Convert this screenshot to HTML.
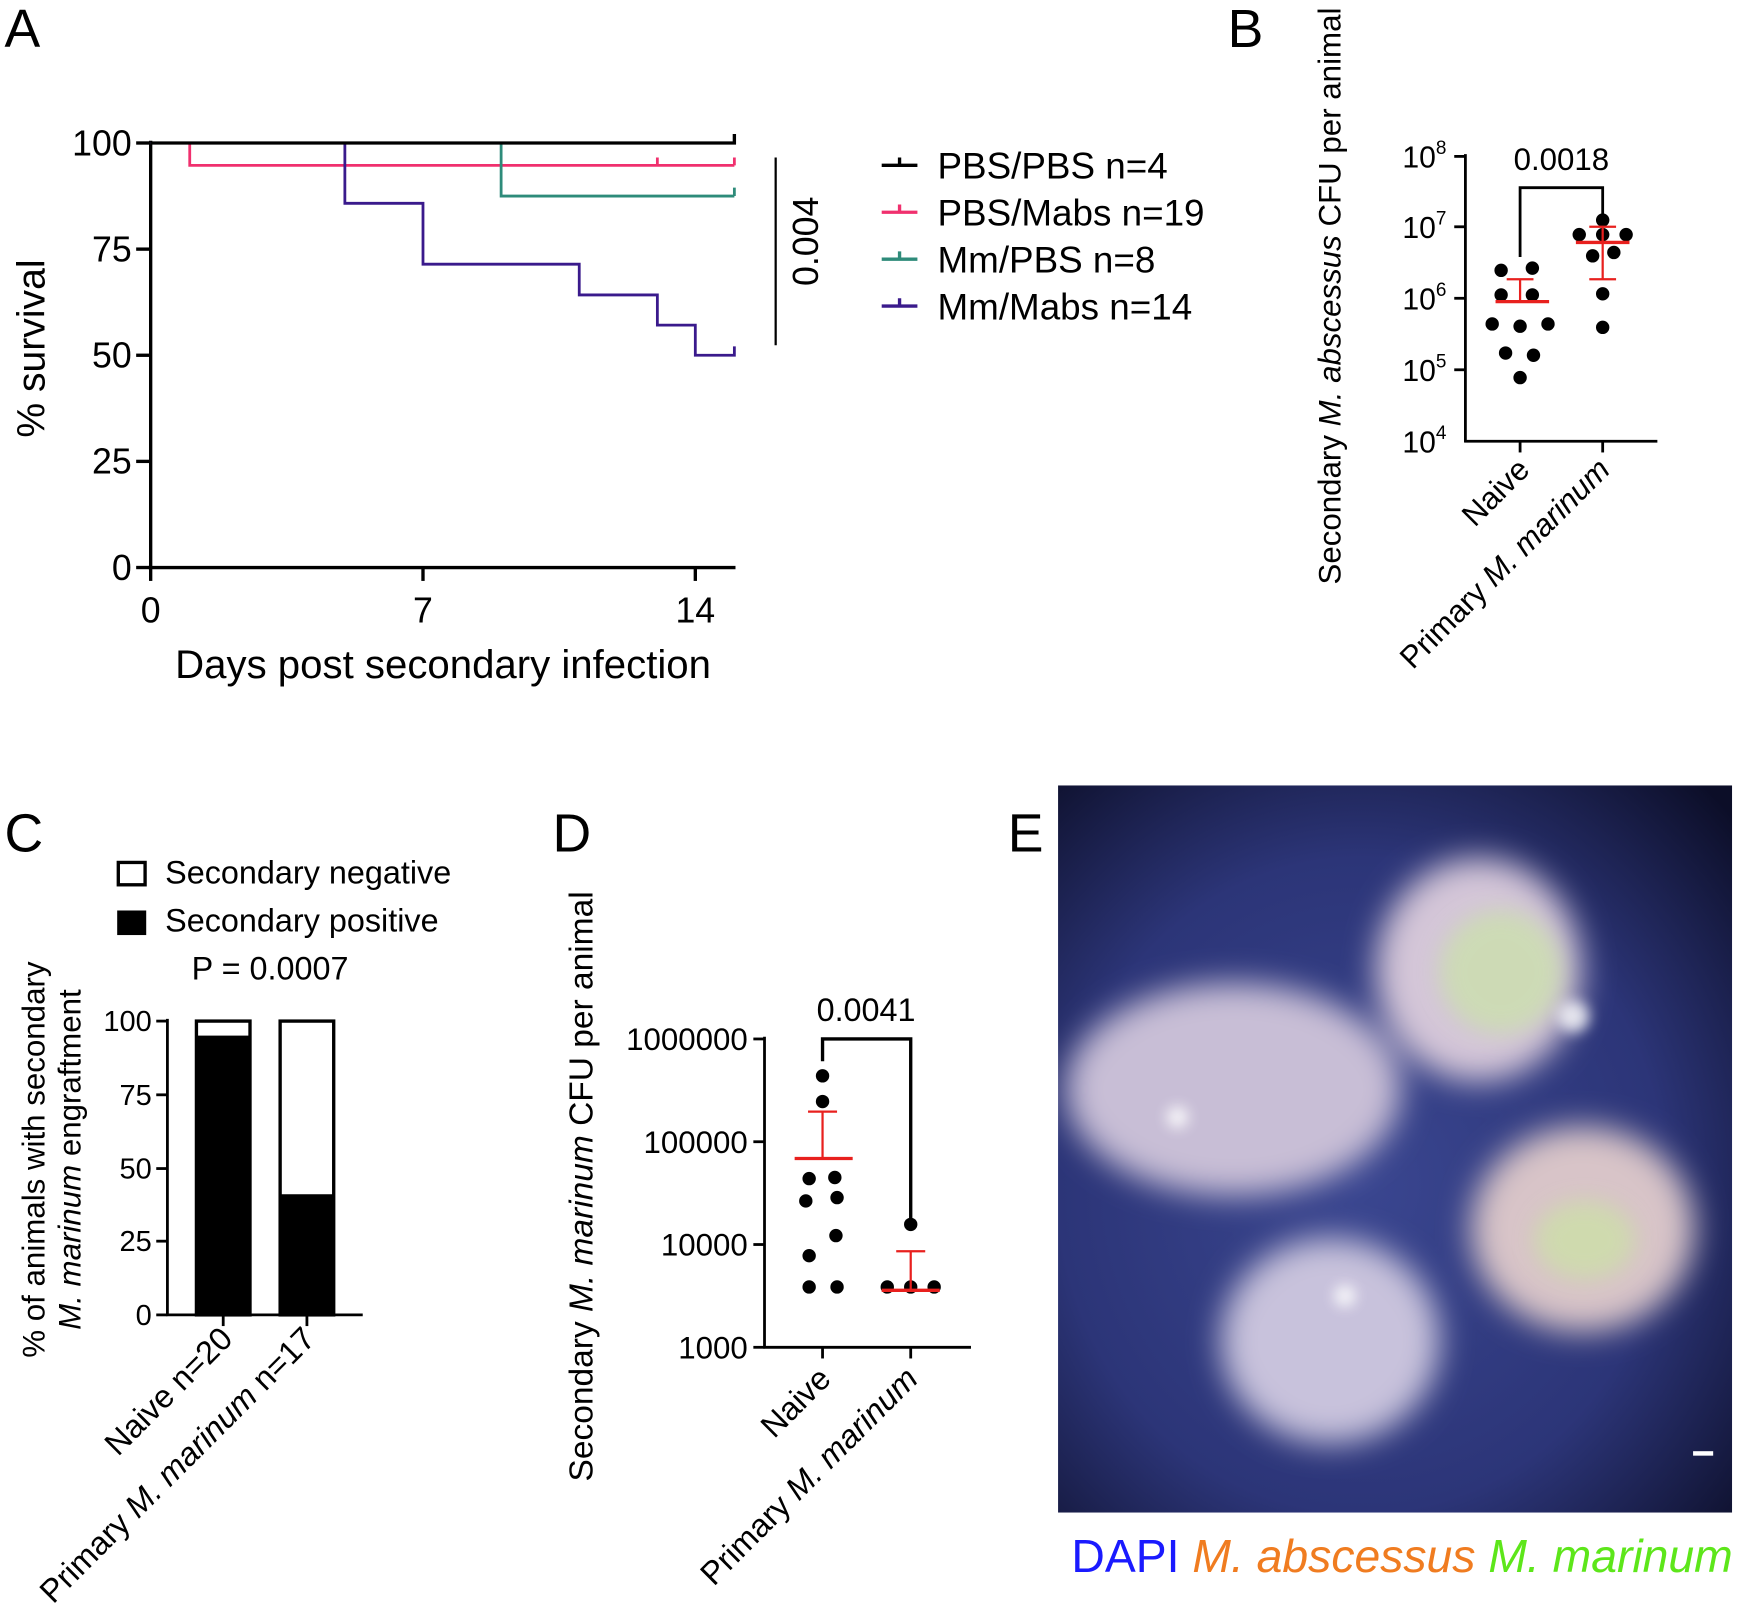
<!DOCTYPE html>
<html><head><meta charset="utf-8"><style>
html,body{margin:0;padding:0;background:#fff;}
svg{display:block;}
text{font-family:"Liberation Sans",sans-serif;fill:#000;}
</style></head><body>
<svg width="1750" height="1621" viewBox="0 0 1568 1451" preserveAspectRatio="none" xmlns="http://www.w3.org/2000/svg">
<defs>
<filter id="bl" x="-30%" y="-30%" width="160%" height="160%"><feGaussianBlur stdDeviation="14"/></filter>
<filter id="bl2" x="-50%" y="-50%" width="200%" height="200%"><feGaussianBlur stdDeviation="10"/></filter>
<filter id="bl3" x="-50%" y="-50%" width="200%" height="200%"><feGaussianBlur stdDeviation="6"/></filter>
<radialGradient id="bg" cx="45%" cy="55%" r="75%">
<stop offset="0" stop-color="#3a4690"/><stop offset="0.6" stop-color="#2c3578"/><stop offset="1" stop-color="#0c0e28"/></radialGradient>
<clipPath id="ec"><rect x="948" y="703" width="604" height="651"/></clipPath>
</defs>

<!-- Panel A -->
<text x="4" y="42" font-size="48">A</text>
<g stroke="#000" stroke-width="3" fill="none">
<line x1="135" y1="126" x2="135" y2="509"/>
<line x1="133" y1="508" x2="659" y2="508"/>
<line x1="122" y1="128" x2="135" y2="128"/><line x1="122" y1="223" x2="135" y2="223"/>
<line x1="122" y1="318" x2="135" y2="318"/><line x1="122" y1="413" x2="135" y2="413"/>
<line x1="122" y1="508" x2="135" y2="508"/>
<line x1="135" y1="508" x2="135" y2="520"/><line x1="379" y1="508" x2="379" y2="520"/><line x1="623" y1="508" x2="623" y2="520"/>
</g>
<g font-size="32" text-anchor="end">
<text x="118" y="139">100</text><text x="118" y="234">75</text><text x="118" y="329">50</text><text x="118" y="424">25</text><text x="118" y="519">0</text>
</g>
<g font-size="32" text-anchor="middle">
<text x="135" y="557">0</text><text x="379" y="557">7</text><text x="623" y="557">14</text>
<text x="397" y="607" font-size="36">Days post secondary infection</text>
</g>
<text transform="translate(40,312) rotate(-90)" font-size="35" text-anchor="middle">% survival</text>
<g fill="none" stroke-width="2.5">
<path d="M135 128 H170 V148 H658 M589 148 V141 M658 148 V141" stroke="#f0306e"/>
<path d="M135 128 H449 V175.5 H658 M658 175.5 V168" stroke="#2e8b7a"/>
<path d="M135 128 H309 V182 H379 V236.5 H519 V264 H589 V291 H623 V318 H658 V310" stroke="#3a1a8c"/>
<path d="M135 128 H658 V120" stroke="#000" stroke-width="3"/>
<line x1="695" y1="141" x2="695" y2="309" stroke="#000" stroke-width="2"/>
</g>
<text transform="translate(733,216) rotate(-90)" font-size="32" text-anchor="middle">0.004</text>
<g stroke-width="3" fill="none">
<path d="M790 148 H822 M806 148 V141" stroke="#000"/>
<path d="M790 190 H822 M806 190 V183" stroke="#f0306e"/>
<path d="M790 232 H822 M806 232 V225" stroke="#2e8b7a"/>
<path d="M790 274 H822 M806 274 V267" stroke="#3a1a8c"/>
</g>
<g font-size="33">
<text x="840" y="160">PBS/PBS n=4</text><text x="840" y="202">PBS/Mabs n=19</text>
<text x="840" y="244">Mm/PBS n=8</text><text x="840" y="286">Mm/Mabs n=14</text>
</g>

<!-- Panel B -->
<text x="1100" y="42" font-size="48">B</text>
<g stroke="#000" stroke-width="2.5" fill="none">
<line x1="1313" y1="138" x2="1313" y2="396"/><line x1="1312" y1="395" x2="1485" y2="395"/>
<line x1="1303" y1="140" x2="1313" y2="140"/><line x1="1303" y1="203" x2="1313" y2="203"/>
<line x1="1303" y1="267" x2="1313" y2="267"/><line x1="1303" y1="331" x2="1313" y2="331"/>
<line x1="1362" y1="395" x2="1362" y2="405"/><line x1="1436" y1="395" x2="1436" y2="405"/>
<path d="M1362 230 V168 H1436 V193"/>
</g>
<g font-size="27" text-anchor="end">
<text x="1296" y="150">10<tspan font-size="17" dy="-12">8</tspan></text>
<text x="1296" y="213">10<tspan font-size="17" dy="-12">7</tspan></text>
<text x="1296" y="277">10<tspan font-size="17" dy="-12">6</tspan></text>
<text x="1296" y="341">10<tspan font-size="17" dy="-12">5</tspan></text>
<text x="1296" y="405">10<tspan font-size="17" dy="-12">4</tspan></text>
</g>
<text x="1399" y="152" font-size="28" text-anchor="middle">0.0018</text>
<text transform="translate(1201,265) rotate(-90)" font-size="28" text-anchor="middle">Secondary <tspan font-style="italic">M. abscessus</tspan> CFU per animal</text>
<text transform="translate(1372,422) rotate(-45)" font-size="28" text-anchor="end">Naive</text>
<text transform="translate(1444,422) rotate(-45)" font-size="28" text-anchor="end">Primary <tspan font-style="italic">M. marinum</tspan></text>
<g fill="#000">
<circle cx="1345" cy="242" r="6"/><circle cx="1373" cy="240" r="6"/><circle cx="1345" cy="264" r="6"/><circle cx="1373" cy="264" r="6"/>
<circle cx="1337" cy="290" r="6"/><circle cx="1362" cy="292" r="6"/><circle cx="1387" cy="290" r="6"/>
<circle cx="1349" cy="316" r="6"/><circle cx="1374" cy="318" r="6"/><circle cx="1362" cy="338" r="6"/>
<circle cx="1436" cy="197" r="6"/><circle cx="1415" cy="210" r="6"/><circle cx="1436" cy="210" r="6"/><circle cx="1457" cy="210" r="6"/>
<circle cx="1427" cy="229" r="6"/><circle cx="1446" cy="226" r="6"/><circle cx="1436" cy="263" r="6"/><circle cx="1436" cy="293" r="6"/>
</g>
<g stroke="#e8201e" fill="none">
<line x1="1340" y1="270" x2="1388" y2="270" stroke-width="3"/>
<path d="M1362 270 V250 M1350 250 H1374" stroke-width="2"/>
<line x1="1412" y1="217" x2="1460" y2="217" stroke-width="3"/>
<path d="M1436 203 V250 M1424 203 H1448 M1424 250 H1448" stroke-width="2"/>
</g>

<!-- Panel C -->
<text x="4" y="762" font-size="48">C</text>
<rect x="106" y="772" width="24" height="20" fill="#fff" stroke="#000" stroke-width="3"/>
<rect x="105" y="815" width="26" height="22" fill="#000"/>
<text x="148" y="791" font-size="29">Secondary negative</text>
<text x="148" y="834" font-size="29">Secondary positive</text>
<text x="242" y="877" font-size="29" text-anchor="middle">P = 0.0007</text>
<rect x="176" y="914" width="48" height="263" fill="#fff" stroke="#000" stroke-width="3"/>
<rect x="176" y="927" width="48" height="250" fill="#000"/>
<rect x="251" y="914" width="48" height="263" fill="#fff" stroke="#000" stroke-width="3"/>
<rect x="251" y="1069" width="48" height="108" fill="#000"/>
<g stroke="#000" stroke-width="2.5">
<line x1="150" y1="912" x2="150" y2="1178"/><line x1="149" y1="1177" x2="325" y2="1177"/>
<line x1="140" y1="914" x2="150" y2="914"/><line x1="140" y1="980" x2="150" y2="980"/>
<line x1="140" y1="1046" x2="150" y2="1046"/><line x1="140" y1="1111" x2="150" y2="1111"/><line x1="140" y1="1177" x2="150" y2="1177"/>
<line x1="200" y1="1177" x2="200" y2="1187"/><line x1="275" y1="1177" x2="275" y2="1187"/>
</g>
<g font-size="26" text-anchor="end">
<text x="136" y="923">100</text><text x="136" y="989">75</text><text x="136" y="1055">50</text><text x="136" y="1120">25</text><text x="136" y="1186">0</text>
</g>
<text transform="translate(40,1038) rotate(-90)" font-size="28" text-anchor="middle">% of animals with secondary</text>
<text transform="translate(72,1038) rotate(-90)" font-size="28" text-anchor="middle"><tspan font-style="italic">M. marinum</tspan> engraftment</text>
<text transform="translate(210,1200) rotate(-45)" font-size="29" text-anchor="end">Naive n=20</text>
<text transform="translate(284,1200) rotate(-45)" font-size="29" text-anchor="end">Primary <tspan font-style="italic">M. marinum</tspan> n=17</text>

<!-- Panel D -->
<text x="495" y="762" font-size="48">D</text>
<g stroke="#000" stroke-width="2.5" fill="none">
<line x1="685" y1="928" x2="685" y2="1207"/><line x1="684" y1="1206" x2="870" y2="1206"/>
<line x1="675" y1="930" x2="685" y2="930"/><line x1="675" y1="1022" x2="685" y2="1022"/>
<line x1="675" y1="1114" x2="685" y2="1114"/><line x1="675" y1="1206" x2="685" y2="1206"/>
<line x1="737" y1="1206" x2="737" y2="1216"/><line x1="816" y1="1206" x2="816" y2="1216"/>
<path d="M737 950 V930 H816 V1100" stroke-width="3"/>
</g>
<g font-size="28" text-anchor="end">
<text x="670" y="940">1000000</text><text x="670" y="1032">100000</text><text x="670" y="1124">10000</text><text x="670" y="1216">1000</text>
</g>
<text x="776" y="914" font-size="29" text-anchor="middle">0.0041</text>
<text transform="translate(531,1062) rotate(-90)" font-size="30" text-anchor="middle">Secondary <tspan font-style="italic">M. marinum</tspan> CFU per animal</text>
<text transform="translate(746,1236) rotate(-45)" font-size="29" text-anchor="end">Naive</text>
<text transform="translate(824,1236) rotate(-45)" font-size="29" text-anchor="end">Primary <tspan font-style="italic">M. marinum</tspan></text>
<g fill="#000">
<circle cx="737" cy="963" r="6"/><circle cx="737" cy="986" r="6"/><circle cx="725" cy="1055" r="6"/><circle cx="748" cy="1054" r="6"/>
<circle cx="750" cy="1072" r="6"/><circle cx="722" cy="1075" r="6"/><circle cx="749" cy="1106" r="6"/><circle cx="725" cy="1124" r="6"/>
<circle cx="725" cy="1152" r="6"/><circle cx="750" cy="1152" r="6"/>
<circle cx="816" cy="1096" r="6"/><circle cx="795" cy="1152" r="6"/><circle cx="816" cy="1152" r="6"/><circle cx="837" cy="1152" r="6"/>
</g>
<g stroke="#e8201e" fill="none">
<line x1="712" y1="1037" x2="764" y2="1037" stroke-width="3"/>
<path d="M737 1037 V995 M724 995 H750" stroke-width="2"/>
<line x1="790" y1="1155" x2="842" y2="1155" stroke-width="3"/>
<path d="M816 1155 V1120 M803 1120 H829" stroke-width="2"/>
</g>

<!-- Panel E -->
<text x="903" y="762" font-size="48">E</text>
<g clip-path="url(#ec)">
<rect x="948" y="703" width="604" height="651" fill="url(#bg)"/>
<g filter="url(#bl)" fill="#d4c6d8">
<ellipse cx="1325" cy="868" rx="92" ry="100"/>
<ellipse cx="1105" cy="975" rx="150" ry="95" fill="#c8bed6"/>
<ellipse cx="1418" cy="1100" rx="100" ry="92" fill="#d8c4c8"/>
<ellipse cx="1192" cy="1200" rx="98" ry="92" fill="#c8c2dc"/>
</g>
<g filter="url(#bl2)" fill="#c8ec9a" opacity="0.55">
<ellipse cx="1345" cy="870" rx="55" ry="55"/><ellipse cx="1420" cy="1110" rx="45" ry="35"/>
</g>
<g filter="url(#bl3)" fill="#ffffff" opacity="0.8">
<circle cx="1410" cy="910" r="14"/><circle cx="1055" cy="1000" r="10"/><circle cx="1205" cy="1160" r="10"/>
</g>
<rect x="1517" y="1299" width="18" height="4" fill="#fff"/>
</g>
<text x="960" y="1407" font-size="41.5"><tspan style="fill:#1a1aff">DAPI</tspan> <tspan font-style="italic" style="fill:#f07c20">M. abscessus</tspan> <tspan font-style="italic" style="fill:#5de61a">M. marinum</tspan></text>
</svg>
</body></html>
